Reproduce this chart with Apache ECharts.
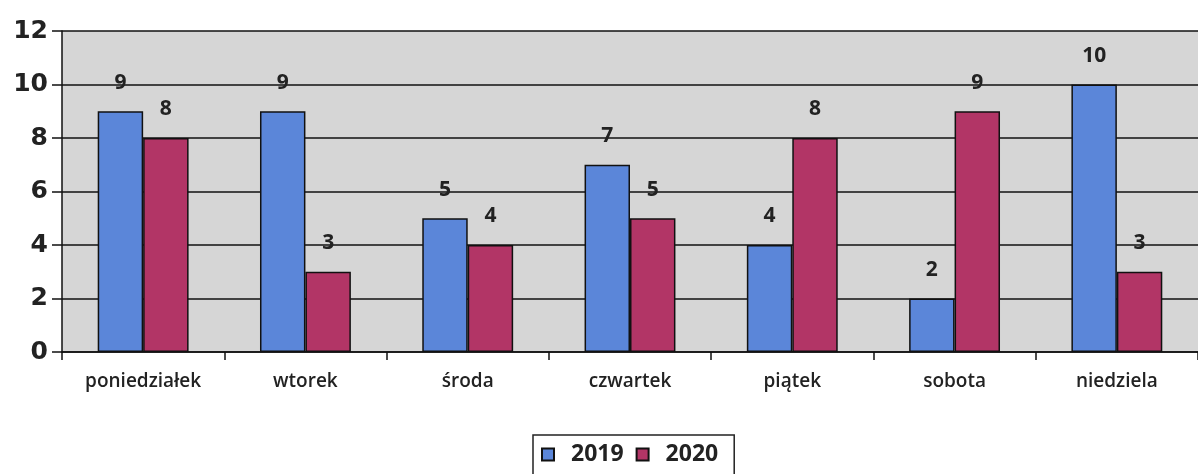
<!DOCTYPE html>
<html><head><meta charset="utf-8">
<script src="https://cdn.jsdelivr.net/npm/echarts@6/dist/echarts.min.js"></script>
<style>html,body{margin:0;padding:0;background:#fff}#c{width:1198px;height:474px}</style>
</head><body><div id="c"></div>
<script>
const categories = ['poniedziałek','wtorek','środa','czwartek','piątek','sobota','niedziela'];
const values2019 = [9,9,5,7,4,2,10];
const values2020 = [8,3,4,5,8,9,3];
const seriesNames = ['2019','2020'];
const yTicks = {min:0,max:12,interval:2};

const chart = echarts.init(document.getElementById('c'));
const font = '"Open Sans", sans-serif';
const lbl = {show:true,position:'top',distance:18,color:'#222',fontFamily:font,fontWeight:'bold',fontSize:21};
chart.setOption({
  animation:false,
  textStyle:{fontFamily:font},
  grid:{left:62,top:31,width:1146,height:321,show:true,backgroundColor:'#d6d6d6',borderWidth:0},
  xAxis:{type:'category',data:categories,
    axisLine:{lineStyle:{color:'#111',width:1.5}},
    axisTick:{show:true,length:8,lineStyle:{color:'#111',width:1.5}},
    axisLabel:{color:'#222',fontFamily:font,fontWeight:600,fontSize:19,margin:20}},
  yAxis:{type:'value',min:yTicks.min,max:yTicks.max,interval:yTicks.interval,
    axisLine:{show:true,lineStyle:{color:'#111',width:1.5}},
    axisTick:{show:true,length:10,lineStyle:{color:'#111',width:1.5}},
    splitLine:{lineStyle:{color:'#111',width:1.5}},
    axisLabel:{color:'#222',fontFamily:'"DejaVu Sans", sans-serif',fontWeight:'bold',fontSize:25,margin:14}},
  legend:{bottom:-12,left:533,data:seriesNames,icon:'rect',
    borderColor:'#222',borderWidth:1.5,padding:[8,16,20,8],
    itemWidth:12,itemHeight:12,itemGap:12,
    textStyle:{color:'#222',fontFamily:font,fontWeight:'bold',fontSize:23,padding:[0,0,0,12]}},
  series:[
    {name:seriesNames[0],type:'bar',data:values2019,barGap:'0%',barCategoryGap:'44%',
     itemStyle:{color:'#5b86d9',borderColor:'#111',borderWidth:1.5},label:lbl},
    {name:seriesNames[1],type:'bar',data:values2020,
     itemStyle:{color:'#b23566',borderColor:'#111',borderWidth:1.5},label:lbl}
  ]
});
</script></body></html>
